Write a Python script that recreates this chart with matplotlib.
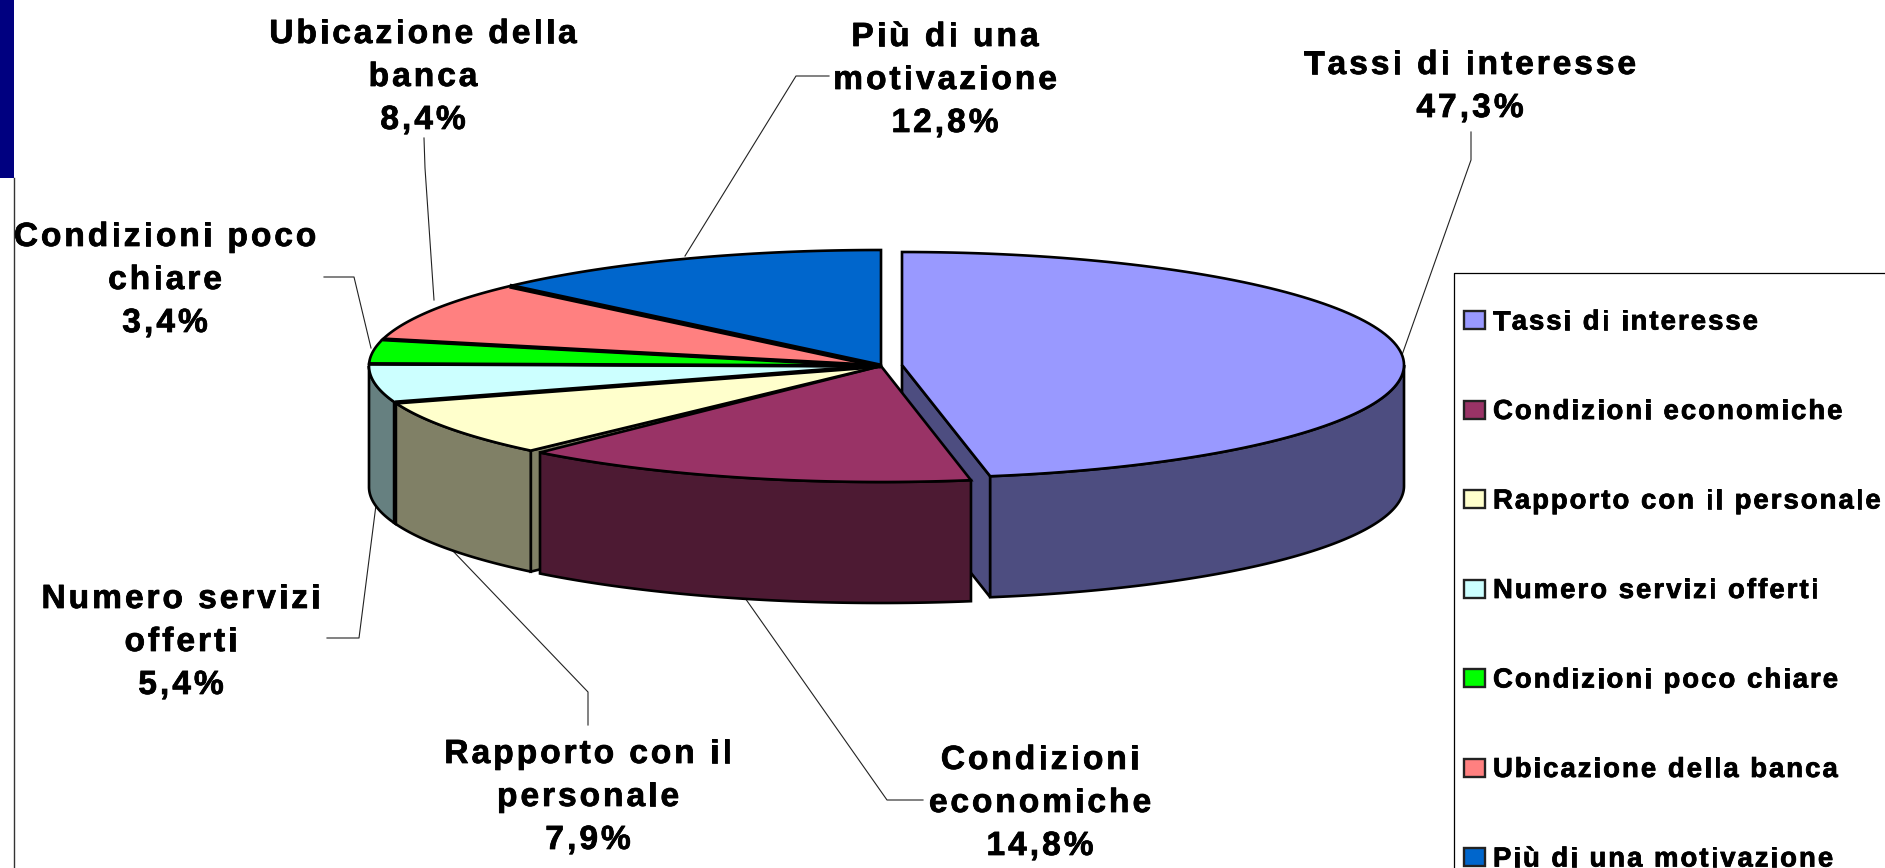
import numpy as np
import matplotlib
matplotlib.use("Agg")
import matplotlib.pyplot as plt
import matplotlib.patheffects as pe
from matplotlib.patches import Polygon, Rectangle
from matplotlib.text import Text
from matplotlib.transforms import Bbox, IdentityTransform
from matplotlib.font_manager import FontProperties

# ---- data ----
categories = ["Tassi di interesse", "Condizioni economiche", "Rapporto con il personale",
              "Numero servizi offerti", "Condizioni poco chiare", "Ubicazione della banca",
              "Più di una motivazione"]
percent = [47.3, 14.8, 7.9, 5.4, 3.4, 8.4, 12.8]
percent_labels = ["47,3%", "14,8%", "7,9%", "5,4%", "3,4%", "8,4%", "12,8%"]
wrapped = ["Tassi di interesse", "Condizioni\neconomiche", "Rapporto con il\npersonale",
           "Numero servizi\nofferti", "Condizioni poco\nchiare", "Ubicazione della\nbanca",
           "Più di una\nmotivazione"]
top_colors = ["#9999FF", "#993366", "#FFFFCC", "#CCFFFF", "#00FF00", "#FF8080", "#0066CC"]
side_colors = ["#4D4D80", "#4D1A33", "#808066", "#668080", "#008000", "#804040", "#003366"]

# ---- layout (pixels) ----
W, H = 1885, 868
PIE = dict(cx=881, cy=366, rx=512, ry=116)
EXPLODED = dict(cx=902, cy=365, rx=502, ry=113)
DEPTH = 121
EDGE = 1.9
ROTATE = -0.4
label_base = [(1470, 74), (1040, 769), (588, 763), (181, 608), (165, 246), (423, 43), (945, 46)]
leaders = [
    [(1471, 132), (1471, 160), (1402, 355)],
    [(745, 598), (887, 800), (923, 800)],
    [(452, 550), (588, 692), (588, 725)],
    [(327, 638), (359, 638), (376, 505)],
    [(324, 277), (354, 277), (371, 348)],
    [(424, 138), (425, 168), (434, 300)],
    [(829, 76), (796, 76), (685, 256)],
]
legend_box = (1454, 273)
legend_y0, legend_dy = 320, 89.5


class SpacedText(Text):
    """One text artist, drawn with extra letter spacing (in pixels)."""

    def __init__(self, x, y, s, px, spacing, pitch, align, **kw):
        super().__init__(x, y, s, **kw)
        self._px, self._spacing, self._pitch, self._align = px, spacing, pitch, align
        self._fp = FontProperties(family="Liberation Sans", weight="bold", size=px * 72 / 100)

    def _advance(self, renderer, c):
        w2 = renderer.get_text_width_height_descent("||", self._fp, False)[0]
        w3 = renderer.get_text_width_height_descent("|" + c + "|", self._fp, False)[0]
        return w3 - w2

    def _layout(self, renderer):
        x0, y0 = self.get_transform().transform(self.get_position())
        out = []
        for i, line in enumerate(self.get_text().split("\n")):
            adv = [self._advance(renderer, c) + self._spacing for c in line]
            width = sum(adv) - self._spacing
            x = x0 - width / 2 if self._align == "center" else x0
            y = y0 - i * self._pitch
            out.append((line, adv, x, y, width))
        return out

    def draw(self, renderer):
        for line, adv, x, y, _ in self._layout(renderer):
            for c, a in zip(line, adv):
                if c != " ":
                    t = Text(x, y, c, fontproperties=self._fp, color="black", ha="left",
                             va="baseline", transform=IdentityTransform())
                    t.set_figure(self.get_figure())
                    t.set_path_effects([pe.withStroke(linewidth=0.55, foreground="black")])
                    t.draw(renderer)
                x += a

    def get_window_extent(self, renderer=None, dpi=None):
        renderer = renderer or self.get_figure().canvas.get_renderer()
        rows = self._layout(renderer)
        return Bbox.from_extents(min(r[2] for r in rows), rows[-1][3] - 0.22 * self._px,
                                 max(r[2] + r[4] for r in rows), rows[0][3] + 0.75 * self._px)


def pt(t, g, dz=0):
    a = np.radians(t)
    return g["cx"] + g["rx"] * np.sin(a), g["cy"] - g["ry"] * np.cos(a) + dz


def arc(t0, t1, g, dz=0):
    ts = np.linspace(t0, t1, 120)
    return [pt(t, g, dz) for t in ts]


def poly(ax, pts, fc, z, lw=EDGE):
    ax.add_patch(Polygon(pts, closed=True, facecolor=fc, edgecolor="black", linewidth=lw,
                         joinstyle="miter", zorder=z))


def side(ax, t0, t1, g, fc, z):
    a, b = max(t0, 90), min(t1, 270)
    if a < b:
        poly(ax, arc(a, b, g) + arc(b, a, g, DEPTH), fc, z)


fig = plt.figure(figsize=(W / 100, H / 100), dpi=100, facecolor="white")
ax = fig.add_axes([0, 0, 1, 1])
ax.set_xlim(0, W)
ax.set_ylim(H, 0)
ax.axis("off")

# page furniture
ax.add_patch(Rectangle((0, 0), 14, 178, facecolor="#000080", edgecolor="none", zorder=1))
ax.plot([13.5, 13.5], [178, H], color="#333333", lw=1.0, zorder=1)

# leader lines
for pts in leaders:
    ax.plot([p[0] for p in pts], [p[1] for p in pts], color="#222222", lw=0.8, zorder=2)

# slice angles, clockwise from 12 o'clock
bounds = np.concatenate([[0], np.cumsum(percent)]) * 360 / 100 + ROTATE
bounds[0] = 0
bounds[-1] = 360
centre = (PIE["cx"], PIE["cy"])

# exploded slice
t0, t1 = bounds[0], bounds[1]
apex = (EXPLODED["cx"], EXPLODED["cy"])
corner = pt(t1, EXPLODED)
poly(ax, [apex, corner, (corner[0], corner[1] + DEPTH), (apex[0], apex[1] + DEPTH)], side_colors[0], 3)
side(ax, t0, t1, EXPLODED, side_colors[0], 4)
poly(ax, [apex] + arc(t0, t1, EXPLODED), top_colors[0], 5)

# remaining slices: sides
end_econ = bounds[2] - 1.4
c = pt(bounds[2], PIE)
poly(ax, [centre, c, (c[0], c[1] + DEPTH), (centre[0], centre[1] + DEPTH)], side_colors[2], 6)
side(ax, bounds[2], bounds[3], PIE, side_colors[2], 7)
side(ax, bounds[3], bounds[4], PIE, side_colors[3], 7)
side(ax, bounds[1], end_econ, PIE, side_colors[1], 8)
# tops
for i in range(1, len(percent)):
    a, b = bounds[i], bounds[i + 1]
    if i == 1:
        b = end_econ
    poly(ax, [centre] + arc(a, b, PIE), top_colors[i], 9)

# dark gaps between the slices
sep = [(3, 3.2), (4, 2.6), (5, 3.0), (6, 3.6)]
for idx, lw in sep:
    e = pt(bounds[idx], PIE)
    ax.plot([centre[0], e[0]], [centre[1], e[1]], color="black", lw=lw, zorder=10,
            solid_capstyle="butt")
e = pt(bounds[3], PIE)
ax.plot([e[0], e[0]], [e[1], e[1] + DEPTH], color="black", lw=3.2, zorder=10, solid_capstyle="butt")

# labels
for name, pct, (x, y) in zip(wrapped, percent_labels, label_base):
    t = SpacedText(x, y, name + "\n" + pct, 33.5, 3.0, 43, "center", zorder=12, transform=ax.transData)
    ax.add_artist(t)

# legend
bx, by = legend_box
ax.plot([W + 5, bx, bx], [by, by, H + 5], color="black", lw=0.9, zorder=2)
for i, (name, col) in enumerate(zip(categories, top_colors)):
    yc = legend_y0 + i * legend_dy
    ax.add_patch(Rectangle((bx + 9.5, yc - 9), 21, 18, facecolor=col, edgecolor="#222222",
                           linewidth=1.7, zorder=5, clip_on=False))
    t = SpacedText(bx + 39, yc + 9.5, name, 27.5, 2.0, 0, "left", zorder=12, transform=ax.transData)
    ax.add_artist(t)

fig.savefig("out.png", dpi=100, facecolor="white")
